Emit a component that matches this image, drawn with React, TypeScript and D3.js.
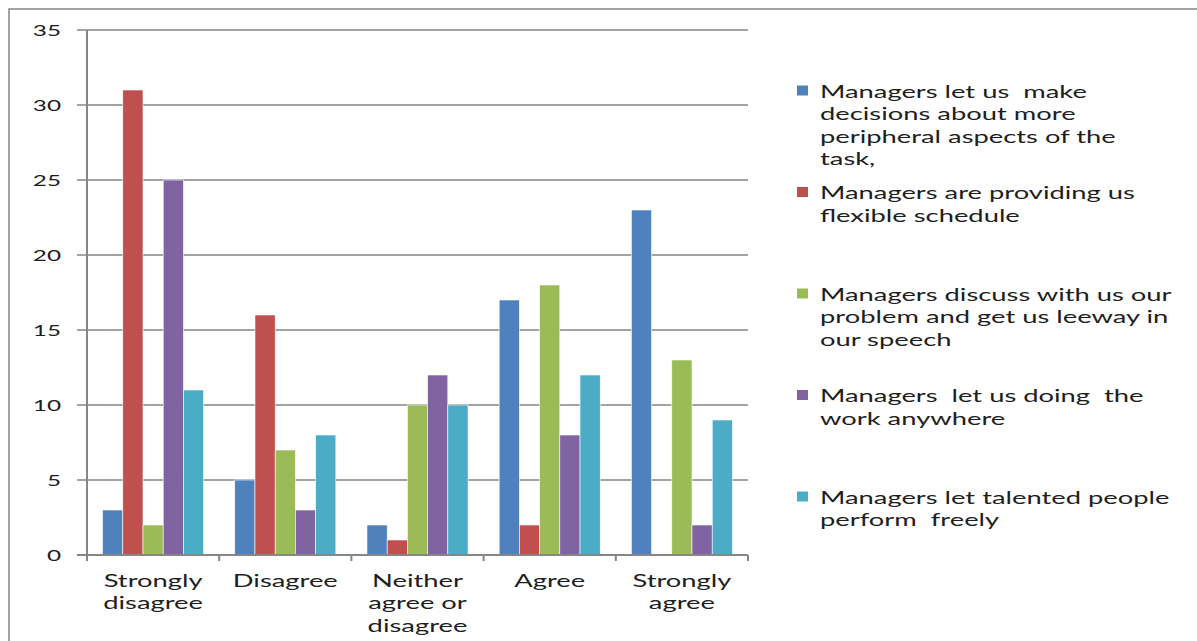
import React, { useRef, useEffect } from 'react';
import * as d3 from 'd3';

// categorias del eje x
const categories = ['Strongly disagree', 'Disagree', 'Neither agree or disagree', 'Agree', 'Strongly agree'];
const categoryLines = [
  ['Strongly', 'disagree'],
  ['Disagree'],
  ['Neither', 'agree or', 'disagree'],
  ['Agree'],
  ['Strongly', 'agree'],
];

// series
const peripheralAspects = [3, 5, 2, 17, 23];
const flexibleSchedule = [31, 16, 1, 2, 0];
const discussProblem = [2, 7, 10, 18, 13];
const workAnywhere = [25, 3, 12, 8, 2];
const talentedPeople = [11, 8, 10, 12, 9];

const seriesNames = [
  'Managers let us  make decisions about more peripheral aspects of the task,',
  'Managers are providing us flexible schedule',
  'Managers discuss with us our problem and get us leeway in our speech',
  'Managers  let us doing  the work anywhere',
  'Managers let talented people perform  freely',
];
const legendLines = [
  ['Managers let us  make', 'decisions about more', 'peripheral aspects of the', 'task,'],
  ['Managers are providing us', 'flexible schedule'],
  ['Managers discuss with us our', 'problem and get us leeway in', 'our speech'],
  ['Managers  let us doing  the', 'work anywhere'],
  ['Managers let talented people', 'perform  freely'],
];
const seriesColors = ['#4F81BD', '#C0504D', '#9BBB59', '#8064A2', '#4BACC6'];
const yTicks = [0, 5, 10, 15, 20, 25, 30, 35];

const W = 1197;
const H = 641;
const FONT = 'Lato, "DejaVu Sans", sans-serif';
const SX = 1.52; // la imagen original esta estirada en horizontal
const GRAY = '#868686';

const App: React.FC = () => {
  const svgRef = useRef<SVGSVGElement>(null);

  useEffect(() => {
    const svg = d3.select(svgRef.current);
    svg.selectAll('*').remove();

    const series = [peripheralAspects, flexibleSchedule, discussProblem, workAnywhere, talentedPeople];

    const plot = { left: 87, right: 748, top: 30, bottom: 555 };

    const x = d3.scaleBand<string>().domain(categories).range([plot.left, plot.right]).padding(0);
    const xInner = d3.scaleBand<number>()
      .domain(d3.range(series.length))
      .range([0, x.bandwidth()])
      .paddingInner(0)
      .paddingOuter(0.77);
    const y = d3.scaleLinear().domain([0, 35]).range([plot.bottom, plot.top]);

    const stretchedText = (
      parent: d3.Selection<any, unknown, null, undefined>,
      tx: number,
      ty: number,
      str: string,
      size: number,
      anchor: string
    ) =>
      parent.append('text')
        .attr('transform', `translate(${tx},${ty}) scale(${SX},1)`)
        .attr('text-anchor', anchor)
        .attr('dominant-baseline', 'central')
        .attr('font-family', FONT)
        .attr('font-size', size)
        .attr('fill', '#1e1e1e')
        .style('white-space', 'pre')
        .text(str);

    // marco exterior
    svg.append('path')
      .attr('d', `M9,${H} L9,9 L${W},9`)
      .attr('fill', 'none')
      .attr('stroke', GRAY)
      .attr('stroke-width', 1.5);

    // rejilla
    svg.append('g')
      .selectAll('line')
      .data(yTicks)
      .join('line')
      .attr('x1', plot.left - 10)
      .attr('x2', plot.right)
      .attr('y1', d => y(d))
      .attr('y2', d => y(d))
      .attr('stroke', GRAY)
      .attr('stroke-width', 1.5);

    // etiquetas eje y
    const yLabels = svg.append('g');
    yTicks.forEach(t => stretchedText(yLabels, 61, y(t), String(t), 16, 'end'));

    // barras
    const bars = svg.append('g');
    series.forEach((vals, si) => {
      bars.selectAll(`rect.s${si}`)
        .data(vals)
        .join('rect')
        .attr('class', `s${si}`)
        .attr('x', (_, i) => (x(categories[i]) ?? 0) + (xInner(si) ?? 0))
        .attr('y', d => y(d))
        .attr('width', xInner.bandwidth())
        .attr('height', d => y(0) - y(d))
        .attr('fill', seriesColors[si])
        .attr('stroke', d => (d > 0 ? '#ffffff' : 'none'))
        .attr('stroke-width', 0.6);
    });

    // ejes
    svg.append('line')
      .attr('x1', plot.left).attr('x2', plot.left)
      .attr('y1', plot.top).attr('y2', plot.bottom)
      .attr('stroke', GRAY).attr('stroke-width', 2);
    svg.append('line')
      .attr('x1', plot.left - 10).attr('x2', plot.right)
      .attr('y1', plot.bottom).attr('y2', plot.bottom)
      .attr('stroke', GRAY).attr('stroke-width', 2);
    const xTickPos = categories.map(c => x(c) ?? 0).concat([plot.right]);
    svg.append('g')
      .selectAll('line')
      .data(xTickPos)
      .join('line')
      .attr('x1', d => d).attr('x2', d => d)
      .attr('y1', plot.bottom).attr('y2', plot.bottom + 6)
      .attr('stroke', GRAY).attr('stroke-width', 2);

    // etiquetas eje x
    const xLabels = svg.append('g');
    categories.forEach((c, i) => {
      const cx = (x(c) ?? 0) + x.bandwidth() / 2;
      categoryLines[i].forEach((line, li) => stretchedText(xLabels, cx, 580 + li * 22.5, line, 18, 'middle'));
    });

    // leyenda
    const legendY = d3.scaleLinear().domain([0, 1]).range([91, 192.5]);
    const legend = svg.append('g');
    seriesNames.forEach((name, si) => {
      const ly = legendY(si);
      legend.append('rect')
        .attr('x', 797)
        .attr('y', ly - 5.5)
        .attr('width', 11)
        .attr('height', 10)
        .attr('fill', seriesColors[si])
        .append('title')
        .text(name);
      legendLines[si].forEach((line, li) => stretchedText(legend, 820, ly + li * 22.5, line, 18, 'start'));
    });
  }, []);

  return (
    <div style={{ position: 'absolute', left: 0, top: 0 }}>
      <svg ref={svgRef} width={W} height={H} style={{ display: 'block', background: '#fff' }} />
    </div>
  );
};

export default App;
